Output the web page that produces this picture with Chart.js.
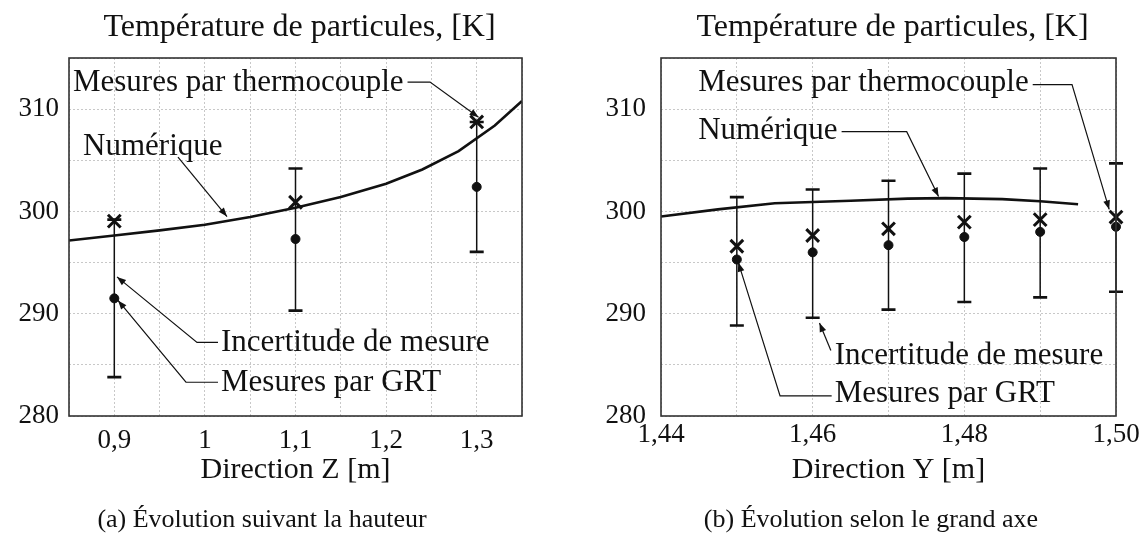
<!DOCTYPE html>
<html><head><meta charset="utf-8">
<script src="https://cdn.jsdelivr.net/npm/chart.js@4.4.0/dist/chart.umd.min.js"></script>
<style>html,body{margin:0;padding:0;background:#fff;width:1141px;height:539px;overflow:hidden}
canvas{position:absolute;left:0;top:0}</style></head>
<body>
<canvas id="c1" width="1141" height="539"></canvas>
<canvas id="c2" width="1141" height="539"></canvas>
<script>
// ---------- Data: panel (a) ----------
const zNum   = [0.85, 0.90, 0.95, 1.00, 1.05, 1.10, 1.15, 1.20, 1.24, 1.28, 1.32, 1.35];
const tNumZ  = [297.15, 297.65, 298.15, 298.7, 299.45, 300.35, 301.4, 302.7, 304.1, 305.9, 308.4, 310.8];
const zMes   = [0.9, 1.1, 1.3];
const tThermoZ = [299.05, 300.9, 308.75];
const tGrtZ    = [291.5, 297.3, 302.4];
const errLowZ  = [283.8, 290.3, 296.05];
const errHighZ = [299.2, 304.2, 308.75];
// ---------- Data: panel (b) ----------
const yNum   = [1.44, 1.4475, 1.455, 1.465, 1.4725, 1.4775, 1.485, 1.49, 1.495];
const tNumY  = [299.5, 300.2, 300.8, 301.05, 301.25, 301.3, 301.2, 301.0, 300.7];
const yMes   = [1.45, 1.46, 1.47, 1.48, 1.49, 1.50];
const tThermoY = [296.6, 297.65, 298.3, 298.95, 299.2, 299.45];
const tGrtY    = [295.3, 296.0, 296.7, 297.5, 298.0, 298.5];
const errLowY  = [288.85, 289.6, 290.4, 291.15, 291.6, 292.15];
const errHighY = [301.4, 302.15, 303.0, 303.7, 304.2, 304.7];
// ---------- Texts ----------
const chartTitle = 'Température de particules, [K]';
const xTitleA = 'Direction Z [m]';
const xTitleB = 'Direction Y [m]';
const captionA = '(a) Évolution suivant la hauteur';
const captionB = '(b) Évolution selon le grand axe';
const tempTickLabels = [280, 290, 300, 310];

const FONT = '"Liberation Serif", "Times New Roman", serif';
const INK = '#111';
function fmt(v, d) { return v.toFixed(d).replace('.', ','); }
function pts(xs, ys) { return xs.map((x, i) => ({x: x, y: ys[i]})); }

function arrowHead(ctx, x0, y0, x1, y1) {
  const a = Math.atan2(y1 - y0, x1 - x0), L = 9, W = 3.4;
  ctx.beginPath();
  ctx.moveTo(x1, y1);
  ctx.lineTo(x1 - L*Math.cos(a) + W*Math.sin(a), y1 - L*Math.sin(a) - W*Math.cos(a));
  ctx.lineTo(x1 - L*Math.cos(a) - W*Math.sin(a), y1 - L*Math.sin(a) + W*Math.cos(a));
  ctx.closePath(); ctx.fill();
}

const decor = {
  id: 'decor',
  beforeDatasetsDraw(chart, args, opts) {
    const ctx = chart.ctx, xs = chart.scales.x, ys = chart.scales.y;
    ctx.save();
    ctx.strokeStyle = INK;
    opts.mx.forEach((m, i) => {
      const px = xs.getPixelForValue(m);
      const pl = ys.getPixelForValue(opts.lo[i]), ph = ys.getPixelForValue(opts.hi[i]);
      ctx.lineWidth = 1.5;
      ctx.beginPath(); ctx.moveTo(px, pl); ctx.lineTo(px, ph); ctx.stroke();
      ctx.lineWidth = 2.6;
      ctx.beginPath(); ctx.moveTo(px - 7, pl); ctx.lineTo(px + 7, pl);
      ctx.moveTo(px - 7, ph); ctx.lineTo(px + 7, ph); ctx.stroke();
    });
    ctx.restore();
  },
  afterDraw(chart, args, opts) {
    const ctx = chart.ctx, ca = chart.chartArea, xs = chart.scales.x, ys = chart.scales.y;
    ctx.save();
    ctx.strokeStyle = '#333'; ctx.lineWidth = 1.6;
    ctx.strokeRect(ca.left, ca.top, ca.right - ca.left, ca.bottom - ca.top);
    ctx.fillStyle = INK; ctx.textBaseline = 'middle';
    const cx = (ca.left + ca.right) / 2;
    ctx.textAlign = 'center';
    ctx.font = '32px ' + FONT; ctx.fillText(opts.title, cx + 4, 28);
    ctx.font = '30px ' + FONT; ctx.fillText(opts.xTitle, cx, 470);
    ctx.font = '26px ' + FONT; ctx.fillText(opts.caption, opts.capX, 520);
    // annotations
    ctx.textAlign = 'left';
    ctx.font = '31px ' + FONT;
    ctx.strokeStyle = INK; ctx.fillStyle = INK; ctx.lineWidth = 1.2;
    opts.notes.forEach(n => {
      const tx = xs.getPixelForValue(n.at[0]), ty = ys.getPixelForValue(n.at[1]);
      ctx.fillText(n.text, tx, ty + 1);
      const path = n.path.map(p => [xs.getPixelForValue(p[0]), ys.getPixelForValue(p[1])]);
      let start;
      if (n.from === 'end') start = [tx + ctx.measureText(n.text).width + 4, path[0][1]];
      else if (n.from === 'start') start = [tx - 3, path[0][1]];
      else start = null;
      const all = start ? [start].concat(path) : path;
      ctx.beginPath(); ctx.moveTo(all[0][0], all[0][1]);
      for (let i = 1; i < all.length; i++) ctx.lineTo(all[i][0], all[i][1]);
      ctx.stroke();
      const a = all[all.length - 2], b = all[all.length - 1];
      arrowHead(ctx, a[0], a[1], b[0], b[1]);
    });
    ctx.restore();
  }
};

function tempAxis(pad) {
  return {
    type: 'linear', min: 280, max: 315,
    ticks: { stepSize: 5, padding: pad, color: INK, font: {family: FONT, size: 27},
      callback: v => tempTickLabels.includes(v) ? String(v) : '' },
    grid: { color: '#c8c8c8', lineWidth: 1, drawTicks: false },
    border: { display: false, dash: [2, 2] },
    afterFit: s => { s.width = 60; s.paddingTop = 0; s.paddingBottom = 0; }
  };
}

function datasets(numX, numY, mx, thermo, grt) {
  return [
    { type: 'line', data: pts(numX, numY), borderColor: INK, borderWidth: 2.6,
      pointRadius: 0, tension: 0, fill: false, order: 1 },
    { type: 'scatter', data: pts(mx, thermo), pointStyle: 'crossRot', pointRadius: 9,
      borderColor: INK, borderWidth: 3, backgroundColor: INK, order: 0, clip: false },
    { type: 'scatter', data: pts(mx, grt), pointStyle: 'circle', pointRadius: 4.5,
      borderColor: INK, borderWidth: 1, backgroundColor: INK, order: 0, clip: false }
  ];
}

Chart.register(decor);

new Chart(document.getElementById('c1'), {
  type: 'scatter',
  data: { datasets: datasets(zNum, tNumZ, zMes, tThermoZ, tGrtZ) },
  options: {
    responsive: false, animation: false, devicePixelRatio: 1,
    layout: { padding: { left: 9, right: 619, top: 58, bottom: 0 } },
    plugins: { legend: { display: false }, tooltip: { enabled: false },
      decor: { mx: zMes, lo: errLowZ, hi: errHighZ, title: chartTitle, xTitle: xTitleA,
        caption: captionA, capX: 262,
        notes: [
          { text: 'Mesures par thermocouple', at: [0.8544, 312.65], from: 'end',
            path: [[1.2485, 312.65], [1.302, 309.2]] },
          { text: 'Numérique', at: [0.8655, 306.4], from: null,
            path: [[0.9703, 305.3], [1.0244, 299.5]] },
          { text: 'Incertitude de mesure', at: [1.0178, 287.2], from: 'start',
            path: [[0.9913, 287.2], [0.903, 293.6]] },
          { text: 'Mesures par GRT', at: [1.0178, 283.3], from: 'start',
            path: [[0.9791, 283.3], [0.9041, 291.3]] }
        ] } },
    scales: {
      x: { type: 'linear', min: 0.85, max: 1.35,
        ticks: { stepSize: 0.05, autoSkip: false, maxRotation: 0, padding: 9, color: INK,
          font: {family: FONT, size: 27},
          callback: v => { const k = Math.round(v * 100); return k % 10 === 0 ? (k === 100 ? '1' : fmt(v, 1)) : ''; } },
        grid: { color: '#c8c8c8', lineWidth: 1, drawTicks: false },
        border: { display: false, dash: [2, 2] },
        afterFit: s => { s.height = 123; s.paddingLeft = 0; s.paddingRight = 0; } },
      y: tempAxis(10)
    }
  }
});

new Chart(document.getElementById('c2'), {
  type: 'scatter',
  data: { datasets: datasets(yNum, tNumY, yMes, tThermoY, tGrtY) },
  options: {
    responsive: false, animation: false, devicePixelRatio: 1,
    layout: { padding: { left: 601, right: 25, top: 58, bottom: 0 } },
    plugins: { legend: { display: false }, tooltip: { enabled: false },
      decor: { mx: yMes, lo: errLowY, hi: errHighY, title: chartTitle, xTitle: xTitleB,
        caption: captionB, capX: 871,
        notes: [
          { text: 'Mesures par thermocouple', at: [1.4449, 312.65], from: 'end',
            path: [[1.4942, 312.4], [1.4991, 300.2]] },
          { text: 'Numérique', at: [1.4449, 307.96], from: 'end',
            path: [[1.4724, 307.8], [1.4766, 301.45]] },
          { text: 'Incertitude de mesure', at: [1.4629, 286.0], from: null,
            path: [[1.4624, 286.4], [1.4609, 289.1]] },
          { text: 'Mesures par GRT', at: [1.4629, 282.25], from: 'start',
            path: [[1.4557, 281.96], [1.4502, 295.0]] }
        ] } },
    scales: {
      x: { type: 'linear', min: 1.44, max: 1.50,
        ticks: { stepSize: 0.01, autoSkip: false, maxRotation: 0, padding: 3, color: INK,
          font: {family: FONT, size: 27},
          callback: v => { const k = Math.round(v * 100); return k % 2 === 0 ? fmt(v, 2) : ''; } },
        grid: { color: '#c8c8c8', lineWidth: 1, drawTicks: false },
        border: { display: false, dash: [2, 2] },
        afterFit: s => { s.height = 123; s.paddingLeft = 0; s.paddingRight = 0; } },
      y: tempAxis(15)
    }
  }
});
</script>
</body></html>
